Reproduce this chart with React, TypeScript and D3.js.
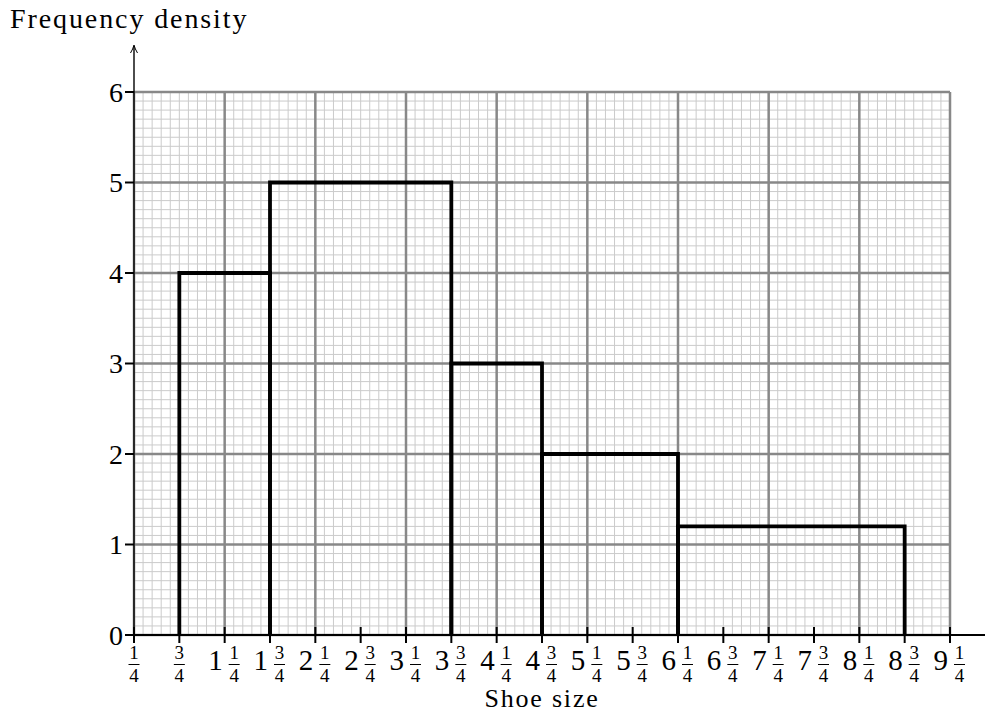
import * as d3 from "d3"

// histogram classes (shoe size) and frequency densities
const lowerBounds = [0.75, 1.75, 3.75, 4.75, 6.25]
const upperBounds = [1.75, 3.75, 4.75, 6.25, 8.75]
const densities = [4, 5, 3, 2, 1.2]

// x tick labels: [whole part, numerator, denominator]
const xTickValues = d3.range(0, 19).map((i) => 0.25 + i * 0.5)
const xTickLabels: [string, string, string][] = [
  ["", "1", "4"], ["", "3", "4"], ["1", "1", "4"], ["1", "3", "4"], ["2", "1", "4"],
  ["2", "3", "4"], ["3", "1", "4"], ["3", "3", "4"], ["4", "1", "4"], ["4", "3", "4"],
  ["5", "1", "4"], ["5", "3", "4"], ["6", "1", "4"], ["6", "3", "4"], ["7", "1", "4"],
  ["7", "3", "4"], ["8", "1", "4"], ["8", "3", "4"], ["9", "1", "4"],
]
const yTicks = [0, 1, 2, 3, 4, 5, 6]

const W = 989
const H = 713
const font = "'Liberation Serif', 'DejaVu Serif', serif"

export default function App() {
  const x = d3.scaleLinear().domain([0.25, 9.25]).range([134, 950])
  const y = d3.scaleLinear().domain([0, 6]).range([635, 92])

  const minorX = d3.range(0, 91).map((i) => 0.25 + i * 0.1)
  const minorY = d3.range(0, 61).map((i) => i * 0.1)
  const majorX = d3.range(0, 10).map((i) => 0.25 + i)

  // outline of each bar without its bottom edge
  const barPath = (i: number) => {
    const x0 = x(lowerBounds[i])
    const x1 = x(upperBounds[i])
    const yt = y(densities[i])
    return `M${x0},${y(0)} L${x0},${yt} L${x1},${yt} L${x1},${y(0)}`
  }

  return (
    <svg
      width={W}
      height={H}
      style={{ position: "absolute", left: 0, top: 0, background: "#fff" }}
      fontFamily={font}
    >
      {/* minor grid */}
      <g stroke="#cbcbcb" strokeWidth={1}>
        {minorX.map((v, i) => (
          <line key={"mx" + i} x1={x(v)} x2={x(v)} y1={y(0)} y2={y(6)} />
        ))}
        {minorY.map((v, i) => (
          <line key={"my" + i} x1={x(0.25)} x2={x(9.25)} y1={y(v)} y2={y(v)} />
        ))}
      </g>
      {/* major grid */}
      <g stroke="#888" strokeWidth={2.5}>
        {majorX.map((v, i) => (
          <line key={"Mx" + i} x1={x(v)} x2={x(v)} y1={y(0)} y2={y(6)} />
        ))}
        {yTicks.map((v, i) => (
          <line key={"My" + i} x1={x(0.25)} x2={x(9.25)} y1={y(v)} y2={y(v)} />
        ))}
      </g>

      {/* histogram bars */}
      <g fill="none" stroke="#000" strokeWidth={3.8} strokeLinejoin="miter">
        {densities.map((_, i) => (
          <path key={"bar" + i} d={barPath(i)} />
        ))}
      </g>

      {/* axes */}
      <line x1={x(0.25)} x2={985} y1={y(0)} y2={y(0)} stroke="#000" strokeWidth={1.8} />
      <line x1={x(0.25)} x2={x(0.25)} y1={y(0)} y2={46} stroke="#000" strokeWidth={1.4} />
      <path
        d={`M${x(0.25) - 3.5},${53} Q${x(0.25) - 1},${49} ${x(0.25)},${45} Q${x(0.25) + 1},${49} ${x(0.25) + 3.5},${53}`}
        fill="none"
        stroke="#000"
        strokeWidth={1}
      />

      {/* y ticks */}
      {yTicks.map((v) => (
        <g key={"yt" + v}>
          <line x1={x(0.25) - 9} x2={x(0.25)} y1={y(v)} y2={y(v)} stroke="#000" strokeWidth={2} />
          <text x={x(0.25) - 11} y={y(v) + 9.5} fontSize={28} textAnchor="end">
            {v}
          </text>
        </g>
      ))}

      {/* x ticks */}
      {xTickValues.map((v, i) => {
        const [whole, num, den] = xTickLabels[i]
        const cx = x(v)
        const fracCx = whole ? cx + 9.5 : cx
        return (
          <g key={"xt" + i}>
            <line x1={cx} x2={cx} y1={y(0) - 8} y2={y(0) + 8} stroke="#000" strokeWidth={2} />
            {whole && (
              <text x={cx - 2} y={670} fontSize={29} textAnchor="end">
                {whole}
              </text>
            )}
            <text x={fracCx} y={659} fontSize={19} textAnchor="middle">
              {num}
            </text>
            <line x1={fracCx - 5.5} x2={fracCx + 5.5} y1={664.5} y2={664.5} stroke="#000" strokeWidth={1} />
            <text x={fracCx} y={682} fontSize={19} textAnchor="middle">
              {den}
            </text>
          </g>
        )
      })}

      {/* titles */}
      <text x={10} y={28} fontSize={28} letterSpacing={1.9}>
        Frequency density
      </text>
      <text x={542} y={707} fontSize={26} textAnchor="middle" letterSpacing={1.8}>
        Shoe size
      </text>
    </svg>
  )
}
